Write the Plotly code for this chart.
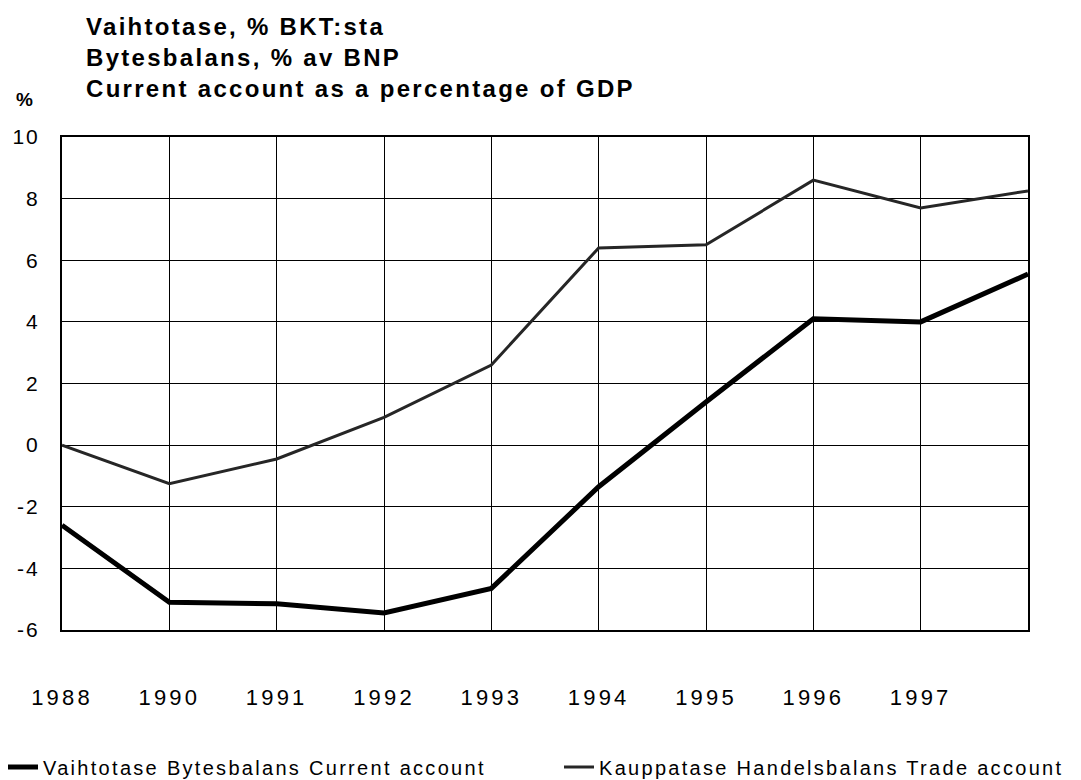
import plotly.graph_objects as go

years = ["1988", "1990", "1991", "1992", "1993", "1994", "1995", "1996", "1997", "1998"]
tick_labels = ["1988", "1990", "1991", "1992", "1993", "1994", "1995", "1996", "1997"]
current_account = [-2.6, -5.1, -5.15, -5.45, -4.65, -1.35, 1.4, 4.1, 4.0, 5.55]
trade_account = [0.0, -1.25, -0.45, 0.9, 2.6, 6.4, 6.5, 8.6, 7.7, 8.25]
y_ticks = [10, 8, 6, 4, 2, 0, -2, -4, -6]

title_lines = ["Vaihtotase, % BKT:sta", "Bytesbalans, % av BNP", "Current account as a percentage of GDP"]
series_names = ["Vaihtotase Bytesbalans Current account", "Kauppatase Handelsbalans Trade account"]

FONT = "Liberation Sans, Arial, sans-serif"

fig = go.Figure()
fig.add_trace(go.Scatter(
    x=years, y=current_account, mode="lines", name=series_names[0],
    line=dict(color="#000000", width=5), legend="legend",
))
fig.add_trace(go.Scatter(
    x=years, y=trade_account, mode="lines", name=series_names[1],
    line=dict(color="#262626", width=3), legend="legend2",
))

legend_common = dict(
    orientation="h",
    xref="container", yref="container",
    xanchor="left",
    y=1 - 767 / 780, yanchor="middle",
    font=dict(family=FONT, size=20, color="black"),
    bgcolor="rgba(0,0,0,0)",
)

fig.update_layout(
    width=1081, height=780,
    paper_bgcolor="white", plot_bgcolor="white",
    margin=dict(l=62, r=53, t=137, b=150),
    font=dict(family=FONT, color="black"),
    title=dict(
        text="<br>".join(title_lines),
        xref="container", yref="container",
        x=86 / 1081, xanchor="left",
        y=1 - 35 / 780, yanchor="top",
        font=dict(family=FONT, size=24, weight="bold", color="black"),
    ),
    showlegend=True,
    legend=dict(legend_common, x=3 / 1081),
    legend2=dict(legend_common, x=559 / 1081),
    annotations=[dict(
        text="%", xref="paper", yref="paper",
        x=-38 / 966, xanchor="center",
        y=1 + 38 / 493, yanchor="middle",
        showarrow=False,
        font=dict(family=FONT, size=19, weight="bold", color="black"),
    )],
)

fig.update_xaxes(
    type="category",
    categoryorder="array", categoryarray=years,
    range=[0, 9],
    tickmode="array", tickvals=tick_labels, ticktext=tick_labels,
    ticks="", ticklabelstandoff=47,
    tickfont=dict(family=FONT, size=22, color="black"),
    showgrid=True, gridcolor="black", gridwidth=1,
    showline=True, linecolor="black", linewidth=2, mirror=True,
    zeroline=False, fixedrange=True,
)
fig.update_yaxes(
    range=[-6, 10],
    tickmode="array", tickvals=y_ticks, ticktext=[str(v) for v in y_ticks],
    ticks="", ticklabelstandoff=16,
    tickfont=dict(family=FONT, size=21, color="black"),
    showgrid=True, gridcolor="black", gridwidth=1,
    showline=True, linecolor="black", linewidth=2, mirror=True,
    zeroline=False, fixedrange=True,
)

post = """
document.body.style.margin = '0';
var s = document.createElement('style');
s.innerHTML = 'body{margin:0;} .gtitle{letter-spacing:2.3px;} .xtick text{letter-spacing:3.2px;} .ytick text{letter-spacing:2px;}';
document.head.appendChild(s);
function spaceLegends(){
  document.querySelectorAll('.infolayer g[class^="legend"] text').forEach(function(t){ t.style.letterSpacing = '2.3px'; });
  document.querySelectorAll('.infolayer g[class^="legend"] [clip-path]').forEach(function(e){ e.removeAttribute('clip-path'); });
  document.querySelectorAll('.infolayer g[class^="legend"]').forEach(function(e){ e.removeAttribute('clip-path'); });
}
spaceLegends();
setTimeout(spaceLegends, 50);
setTimeout(spaceLegends, 300);
"""

fig.write_html("out.html", post_script=post, config={"displayModeBar": False})
